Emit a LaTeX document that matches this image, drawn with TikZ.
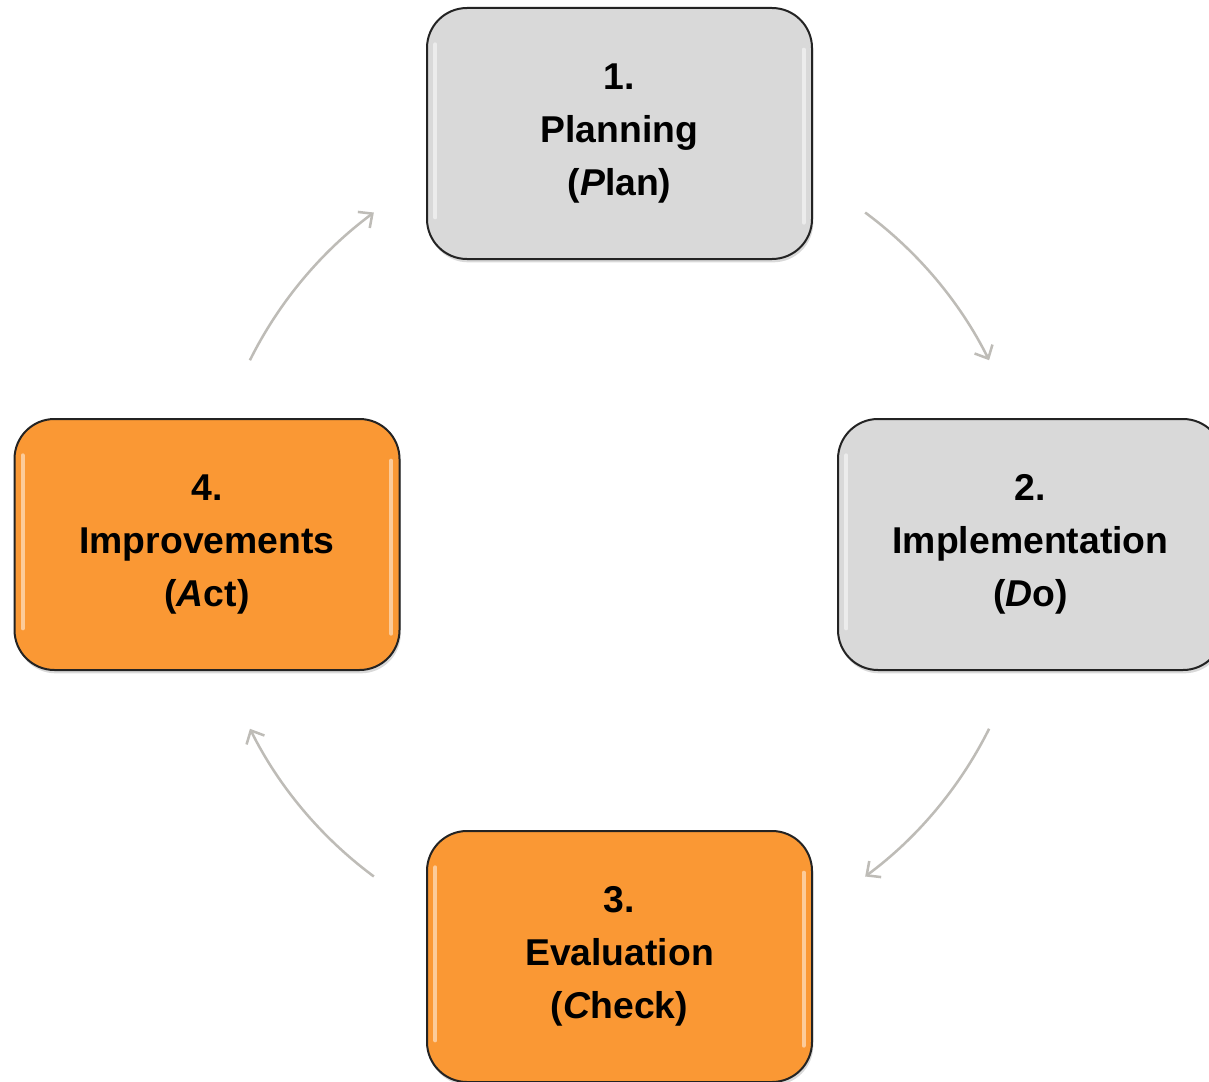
\documentclass[tikz,border=0pt]{standalone}
\usepackage{fontspec}
\setmainfont{Liberation Sans}
\usetikzlibrary{arrows.meta,shadows,calc}
\definecolor{boxgray}{RGB}{217,217,217}
\definecolor{boxorange}{RGB}{250,152,52}
\definecolor{arrowgray}{RGB}{190,188,183}
\definecolor{edgedark}{RGB}{35,35,35}
\begin{document}
\begin{tikzpicture}[x=0.75pt,y=-0.75pt,
  stagebox/.style={draw=edgedark, line width=1.5pt, rounded corners=30pt,
    minimum width=288.75pt, minimum height=188.25pt, align=center,
    font=\fontsize{28}{39.75}\selectfont\bfseries, inner sep=0pt,
    drop shadow={shadow xshift=1pt, shadow yshift=-2.5pt, opacity=0.3}},
  graybox/.style={stagebox, fill=boxgray},
  orangebox/.style={stagebox, fill=boxorange},
  shine/.style={white, opacity=0.5, line width=3pt, line cap=round},
  flow/.style={draw=arrowgray, line width=1.9pt, -{Straight Barb[length=8pt,width=15pt,line width=1.9pt]}}
]
\useasboundingbox (0,0) rectangle (1209,1081);
\node[graybox] (plan) at (619.5,133.5) {1.\\Planning\\(\textit{P}lan)};
\node[graybox] (do) at (1030.5,544.5) {2.\\Implementation\\(\textit{D}o)};
\node[orangebox] (check) at (619.5,956.5) {3.\\Evaluation\\(\textit{C}heck)};
\node[orangebox] (act) at (207,544.5) {4.\\Improvements\\(\textit{A}ct)};
\foreach \b in {plan,do,check,act}{
  \draw[shine] ([xshift=7pt,yshift=-28pt]\b.north west) -- ([xshift=7pt,yshift=32pt]\b.south west);
  \draw[shine] ([xshift=-7pt,yshift=-32pt]\b.north east) -- ([xshift=-7pt,yshift=28pt]\b.south east);
}
\coordinate (c) at (619.5,544.5);
\coordinate (a1s) at ($(c)+(-53.5:413)$);
\coordinate (a2s) at ($(c)+(26.5:413)$);
\coordinate (a3s) at ($(c)+(126.5:413)$);
\coordinate (a4s) at ($(c)+(206.5:413)$);
\draw[flow] (a1s) arc[start angle=-53.5, end angle=-26.5, radius=413];
\draw[flow] (a2s) arc[start angle=26.5, end angle=53.5, radius=413];
\draw[flow] (a3s) arc[start angle=126.5, end angle=153.5, radius=413];
\draw[flow] (a4s) arc[start angle=206.5, end angle=233.5, radius=413];
\end{tikzpicture}
\end{document}
